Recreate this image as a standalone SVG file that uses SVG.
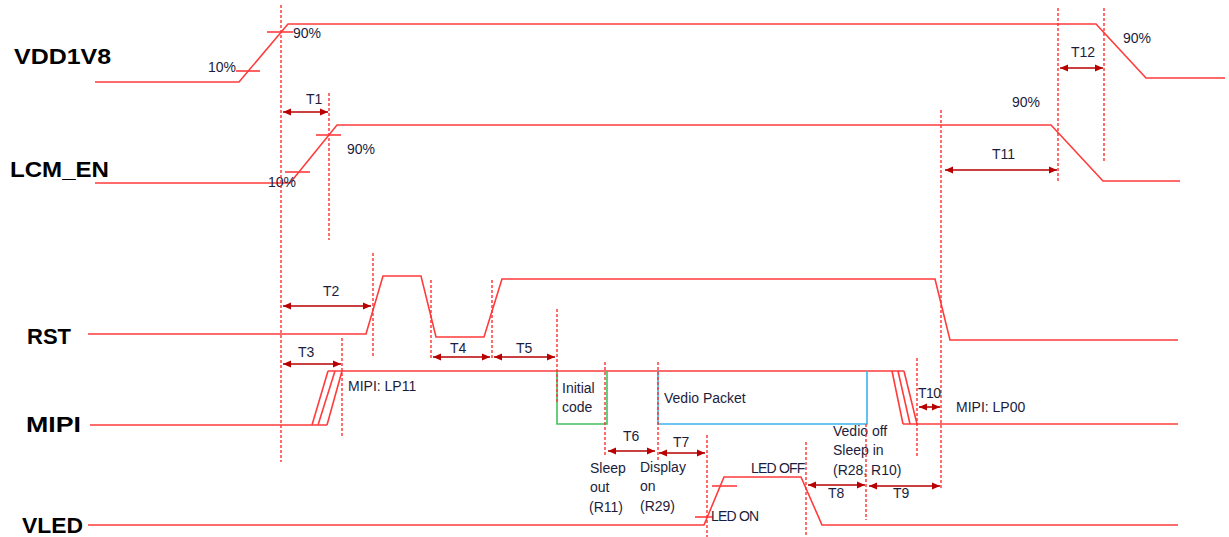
<svg xmlns="http://www.w3.org/2000/svg" width="1229" height="537" viewBox="0 0 1229 537">
<style>
.sig{fill:none;stroke:#ff3b3b;stroke-width:1.6;stroke-linejoin:miter}
.dash{fill:none;stroke:#ff3030;stroke-width:1.4;stroke-dasharray:3,2}
.arr{stroke:#b80000;stroke-width:1.6;marker-start:url(#ah);marker-end:url(#ah)}
.big{font-family:"Liberation Sans",Arial,sans-serif;font-weight:bold;font-size:22px;fill:#000}
.t{font-family:"Liberation Sans",Arial,sans-serif;font-size:14px;fill:#1c1c3c}
</style>
<defs>
<marker id="ah" markerUnits="userSpaceOnUse" markerWidth="10" markerHeight="8" refX="8" refY="4" orient="auto-start-reverse">
<path d="M0,0.5 L8,4 L0,7.5 Z" fill="#b80000"/>
</marker>
</defs>
<rect width="1229" height="537" fill="#fff"/>

<g id="labels">
<text class="big" x="14" y="64" textLength="97" lengthAdjust="spacingAndGlyphs">VDD1V8</text>
<text class="big" x="10" y="177" textLength="99" lengthAdjust="spacingAndGlyphs">LCM_EN</text>
<text class="big" x="27" y="344" textLength="44" lengthAdjust="spacingAndGlyphs">RST</text>
<text class="big" x="26" y="432" textLength="55" lengthAdjust="spacingAndGlyphs">MIPI</text>
<text class="big" x="22" y="533" textLength="61" lengthAdjust="spacingAndGlyphs">VLED</text>
</g>

<g id="VDD1V8">
<polyline class="sig" points="95,82 239,82 288,24 1096,24 1146,78 1225,78"/>
<line class="sig" x1="236" y1="71" x2="260" y2="71"/>
<line class="sig" x1="267" y1="32" x2="293" y2="32"/>
<text class="t" x="208" y="72">10%</text>
<text class="t" x="293" y="38">90%</text>
<text class="t" x="1123" y="43">90%</text>
</g>

<g id="LCM_EN">
<polyline class="sig" points="95,183 290,183 337,125 1051,125 1103,181 1180,181"/>
<line class="sig" x1="285" y1="172" x2="310" y2="172"/>
<line class="sig" x1="316" y1="135" x2="341" y2="135"/>
<text class="t" x="268" y="187">10%</text>
<text class="t" x="347" y="154">90%</text>
<text class="t" x="1012" y="107">90%</text>
</g>

<g id="RST">
<polyline class="sig" points="88,334 366,334 383,276 421,276 436,337 484,337 502,279 935,279 950,340 1178,340"/>
</g>

<g id="MIPI">
<polyline class="sig" points="90,425 327,425"/>
<line class="sig" x1="312" y1="425" x2="328" y2="371"/>
<line class="sig" x1="318" y1="425" x2="335" y2="371"/>
<line class="sig" x1="327" y1="425" x2="342" y2="371"/>
<polyline class="sig" points="328,371 904,371"/>
<line class="sig" x1="892" y1="371" x2="903" y2="424"/>
<line class="sig" x1="898" y1="371" x2="910" y2="424"/>
<line class="sig" x1="904" y1="371" x2="917" y2="424"/>
<polyline class="sig" points="903,424 1178,424"/>
<text class="t" x="348" y="391">MIPI: LP11</text>
<text class="t" x="956" y="412">MIPI: LP00</text>
</g>

<g id="initial-code">
<polyline points="557,371 557,424 607,424 607,371" fill="none" stroke="#44c060" stroke-width="1.6"/>
<text class="t" x="562" y="393">Initial</text>
<text class="t" x="562" y="412">code</text>
</g>

<g id="vedio-packet">
<polyline points="658,371 658,424 867,424 867,371" fill="none" stroke="#3cb4ec" stroke-width="1.6"/>
<text class="t" x="664" y="403">Vedio Packet</text>
</g>

<g id="VLED">
<polyline class="sig" points="88,525 704,525 724,477 801,477 822,525 1178,525"/>
<line class="sig" x1="695" y1="517" x2="713" y2="517"/>
<line class="sig" x1="712" y1="486" x2="737" y2="486"/>
<text class="t" x="711" y="521" letter-spacing="-0.8">LED ON</text>
<text class="t" x="751" y="473" letter-spacing="-0.8">LED OFF</text>
</g>

<g id="notes">
<text class="t" x="590" y="473">Sleep</text>
<text class="t" x="590" y="492">out</text>
<text class="t" x="589" y="512">(R11)</text>
<text class="t" x="640" y="472">Display</text>
<text class="t" x="640" y="491">on</text>
<text class="t" x="640" y="511">(R29)</text>
<text class="t" x="833" y="436">Vedio off</text>
<text class="t" x="833" y="455">Sleep in</text>
<text class="t" x="833" y="475">(R28, R10)</text>
</g>

<g id="connectors">
<line class="dash" x1="281" y1="5" x2="281" y2="462"/>
<line class="dash" x1="329" y1="93" x2="329" y2="240"/>
<line class="dash" x1="373" y1="253" x2="373" y2="358"/>
<line class="dash" x1="342" y1="338" x2="342" y2="437"/>
<line class="dash" x1="431" y1="280" x2="431" y2="360"/>
<line class="dash" x1="492" y1="280" x2="492" y2="360"/>
<line class="dash" x1="557" y1="309" x2="557" y2="403"/>
<line class="dash" x1="605" y1="362" x2="605" y2="455"/>
<line class="dash" x1="658" y1="362" x2="658" y2="462"/>
<line class="dash" x1="707" y1="435" x2="707" y2="537"/>
<line class="dash" x1="806" y1="442" x2="806" y2="537"/>
<line class="dash" x1="866" y1="424" x2="866" y2="520"/>
<line class="dash" x1="917" y1="358" x2="917" y2="457"/>
<line class="dash" x1="941" y1="110" x2="941" y2="488"/>
<line class="dash" x1="1058" y1="8" x2="1058" y2="183"/>
<line class="dash" x1="1104" y1="8" x2="1104" y2="163"/>

<line class="arr" x1="283" y1="112" x2="328" y2="112"/>
<line class="arr" x1="945" y1="170" x2="1057" y2="170"/>
<line class="arr" x1="1060" y1="68" x2="1103" y2="68"/>
<line class="arr" x1="283" y1="306" x2="371" y2="306"/>
<line class="arr" x1="283" y1="364" x2="341" y2="364"/>
<line class="arr" x1="433" y1="357" x2="490" y2="357"/>
<line class="arr" x1="494" y1="357" x2="555" y2="357"/>
<line class="arr" x1="608" y1="451" x2="655" y2="451"/>
<line class="arr" x1="659" y1="453" x2="705" y2="453"/>
<line class="arr" x1="808" y1="485" x2="865" y2="485"/>
<line class="arr" x1="869" y1="486" x2="940" y2="486"/>
<line class="arr" x1="919" y1="407" x2="940" y2="407"/>

<text class="t" x="306" y="104">T1</text>
<text class="t" x="1071" y="57">T12</text>
<text class="t" x="992" y="159">T11</text>
<text class="t" x="323" y="296">T2</text>
<text class="t" x="298" y="357">T3</text>
<text class="t" x="450" y="353">T4</text>
<text class="t" x="516" y="353">T5</text>
<text class="t" x="623" y="441">T6</text>
<text class="t" x="673" y="447">T7</text>
<text class="t" x="828" y="498">T8</text>
<text class="t" x="893" y="498">T9</text>
<text class="t" x="918" y="398" letter-spacing="-0.6">T10</text>
</g>
</svg>
